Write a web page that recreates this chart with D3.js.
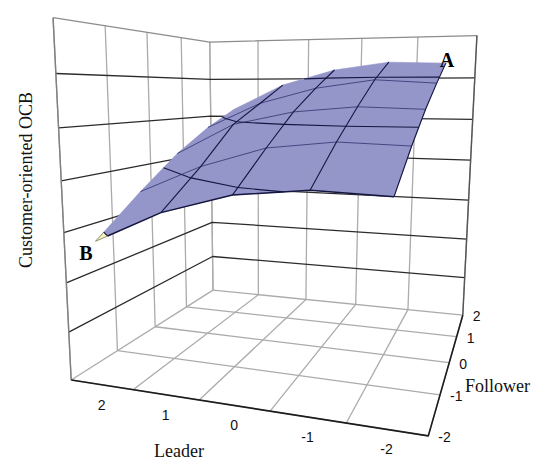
<!DOCTYPE html>
<html>
<head>
  <meta charset="UTF-8">
  <title>Customer-oriented OCB</title>
  <style>
    body{ margin:0; background:#fff; }
    text{ fill:#111; }
    .serif{ font-family:"Liberation Serif",serif; font-size:18px; }
    .tick{ font-family:"Liberation Sans",sans-serif; font-size:14px; }
    .mark{ font-family:"Liberation Serif",serif; font-size:20px; font-weight:bold; fill:#000; }
  </style>
</head>
<body>
<svg id="graph" width="550" height="473"></svg>
<script src="https://cdn.jsdelivr.net/npm/d3@7"></script>
<script>
  "use strict";

  var leaderTicks = [2, 1, 0, -1, -2];
  var followerTicks = [-2, -1, 0, 1, 2];
  var heightLevels = [1, 2, 3, 4, 5, 6];
  var bandLevels = [3, 4, 5, 6];

  // one row per follower tick, one column per leader tick
  var followerM2 = [2.88, 3.51, 3.90, 4.05, 4.01];
  var followerM1 = [3.60, 4.18, 4.59, 4.74, 4.70];
  var follower0 = [4.26, 4.95, 5.24, 5.36, 5.32];
  var followerP1 = [4.78, 5.39, 5.75, 5.94, 5.86];
  var followerP2 = [5.19, 5.84, 6.22, 6.40, 6.36];
  var heights = [followerM2, followerM1, follower0, followerP1, followerP2];

  // camera fitted to the corners of the box in the picture
  var cam = [
    [287.85222, 238.06558, -22.68764, 71.19371],
    [-14.58830, 41.28689, -363.84697, 379.97507],
    [-0.16174, 0.45201, -0.08585, 1]
  ];

  var sx = d3.scaleLinear().domain([2.5, -2.5]).range([0, 1]),
      sy = d3.scaleLinear().domain([-2, 2]).range([0, 1]),
      sz = d3.scaleLinear().domain([0, 7]).range([0, 1]);

  function project(l, f, z){
    var v = [sx(l), sy(f), sz(z), 1];
    var d = d3.sum(cam[2], function(c, i){ return c * v[i]; });
    return cam.slice(0, 2).map(function(r){
      return d3.sum(r, function(c, i){ return c * v[i]; }) / d;
    });
  }

  var svg = d3.select("#graph");
  var line = d3.line();

  function seg(points, color, w){
    svg.append("path")
      .attr("d", line(points.map(function(p){ return project(p[0], p[1], p[2]); })))
      .attr("fill", "none")
      .attr("stroke", color)
      .attr("stroke-width", w)
      .attr("stroke-linejoin", "round");
  }

  var lMin = -2.5, lMax = 2.5, fMin = -2, fMax = 2, zTop = 7;
  var leaderGrid = d3.range(lMin, lMax + 1);
  var gray = "#ababab", dark = "#2b2b2b";

  // floor
  leaderGrid.forEach(function(l){ seg([[l, fMin, 0], [l, fMax, 0]], gray, 1.3); });
  followerTicks.forEach(function(f){ seg([[lMin, f, 0], [lMax, f, 0]], gray, 1.3); });

  // walls
  leaderGrid.forEach(function(l){ seg([[l, fMax, 0], [l, fMax, zTop]], gray, 1.3); });
  followerTicks.forEach(function(f){ seg([[lMax, f, 0], [lMax, f, zTop]], gray, 1.3); });
  seg([[lMax, fMin, zTop], [lMax, fMax, zTop], [lMin, fMax, zTop]], "#8c8c8c", 1.3);
  heightLevels.forEach(function(z){
    seg([[lMax, fMin, z], [lMax, fMax, z], [lMin, fMax, z]], dark, 1.3);
  });

  // outer edges
  seg([[lMax, fMin, 0], [lMax, fMin, zTop]], "#808080", 1.4);
  seg([[lMin, fMax, 0], [lMin, fMax, zTop]], "#555", 1.4);
  seg([[lMax, fMin, 0], [lMin, fMin, 0], [lMin, fMax, 0]], "#1c1c1c", 1.6);

  // cell corners of the surface
  function corners(i, j){
    return [[j, i], [j + 1, i], [j + 1, i + 1], [j, i + 1]].map(function(c){
      return [leaderTicks[c[0]], followerTicks[c[1]], heights[c[1]][c[0]]];
    });
  }
  function cross(a, b, z){
    var t = (z - a[2]) / (b[2] - a[2]);
    return [a[0] + t * (b[0] - a[0]), a[1] + t * (b[1] - a[1]), z];
  }
  function crossings(c, z){
    var out = [];
    c.forEach(function(a, k){
      var b = c[(k + 1) % 4];
      if((a[2] < z) !== (b[2] < z)) out.push(cross(a, b, z));
    });
    return out;
  }
  // part of the cell lying under height z
  function below(c, z){
    var out = [];
    c.forEach(function(a, k){
      var b = c[(k + 1) % 4];
      if(a[2] < z) out.push(a);
      if((a[2] < z) !== (b[2] < z)) out.push(cross(a, b, z));
    });
    return out;
  }
  function poly(points, color, edge){
    svg.append("path")
      .attr("d", line(points.map(function(p){ return project(p[0], p[1], p[2]); })) + "Z")
      .attr("fill", color)
      .attr("stroke", edge || color)
      .attr("stroke-width", 0.6);
  }

  var cells = [];
  d3.range(4).forEach(function(i){
    d3.range(4).forEach(function(j){ cells.push(corners(i, j)); });
  });
  cells.forEach(function(c){ poly(c, "#9496c9"); });
  cells.forEach(function(c){
    var low = below(c, bandLevels[0]);
    if(low.length > 2) poly(low, "#f6f2bd", "#77773a");
  });

  // mesh
  var navy = "#3a3c78", ink = "#14163f";
  heights.forEach(function(row, i){
    if(i == 0 || i == 4) return;
    seg(row.map(function(z, j){ return [leaderTicks[j], followerTicks[i], z]; }), navy, 0.9);
  });
  leaderTicks.forEach(function(l, j){
    if(j == 0) return;
    seg(heights.map(function(r, i){ return [l, followerTicks[i], r[j]]; }), ink, 1.1);
  });
  bandLevels.forEach(function(z){
    cells.forEach(function(c){
      var x = crossings(c, z);
      if(x.length == 2) seg(x, ink, 1.1);
    });
  });
  // front edge, from where it leaves the light band
  var frontEdge = followerM2.map(function(z, j){ return [leaderTicks[j], fMin, z]; });
  frontEdge[0] = cross(frontEdge[0], frontEdge[1], bandLevels[0]);
  seg(frontEdge, ink, 1.5);

  // labels
  leaderTicks.forEach(function(l){
    var p = project(l, fMin, 0);
    svg.append("text").attr("class", "tick").attr("x", p[0]).attr("y", p[1] + 25)
      .attr("text-anchor", "middle").text(l);
  });
  followerTicks.forEach(function(f){
    var p = project(lMin, f, 0);
    svg.append("text").attr("class", "tick").attr("x", p[0] + 10).attr("y", p[1] + 6).text(f);
  });
  svg.append("text").attr("class", "serif").attr("x", 179).attr("y", 457)
    .attr("text-anchor", "middle").text("Leader");
  svg.append("text").attr("class", "serif").attr("x", 465).attr("y", 392).text("Follower");
  svg.append("text").attr("class", "serif")
    .attr("transform", "translate(32,180) rotate(-90)")
    .attr("text-anchor", "middle").text("Customer-oriented OCB");
  svg.append("text").attr("class", "mark").attr("x", 447).attr("y", 67)
    .attr("text-anchor", "middle").text("A");
  svg.append("text").attr("class", "mark").attr("x", 86).attr("y", 260)
    .attr("text-anchor", "middle").text("B");
</script>
</body>
</html>
